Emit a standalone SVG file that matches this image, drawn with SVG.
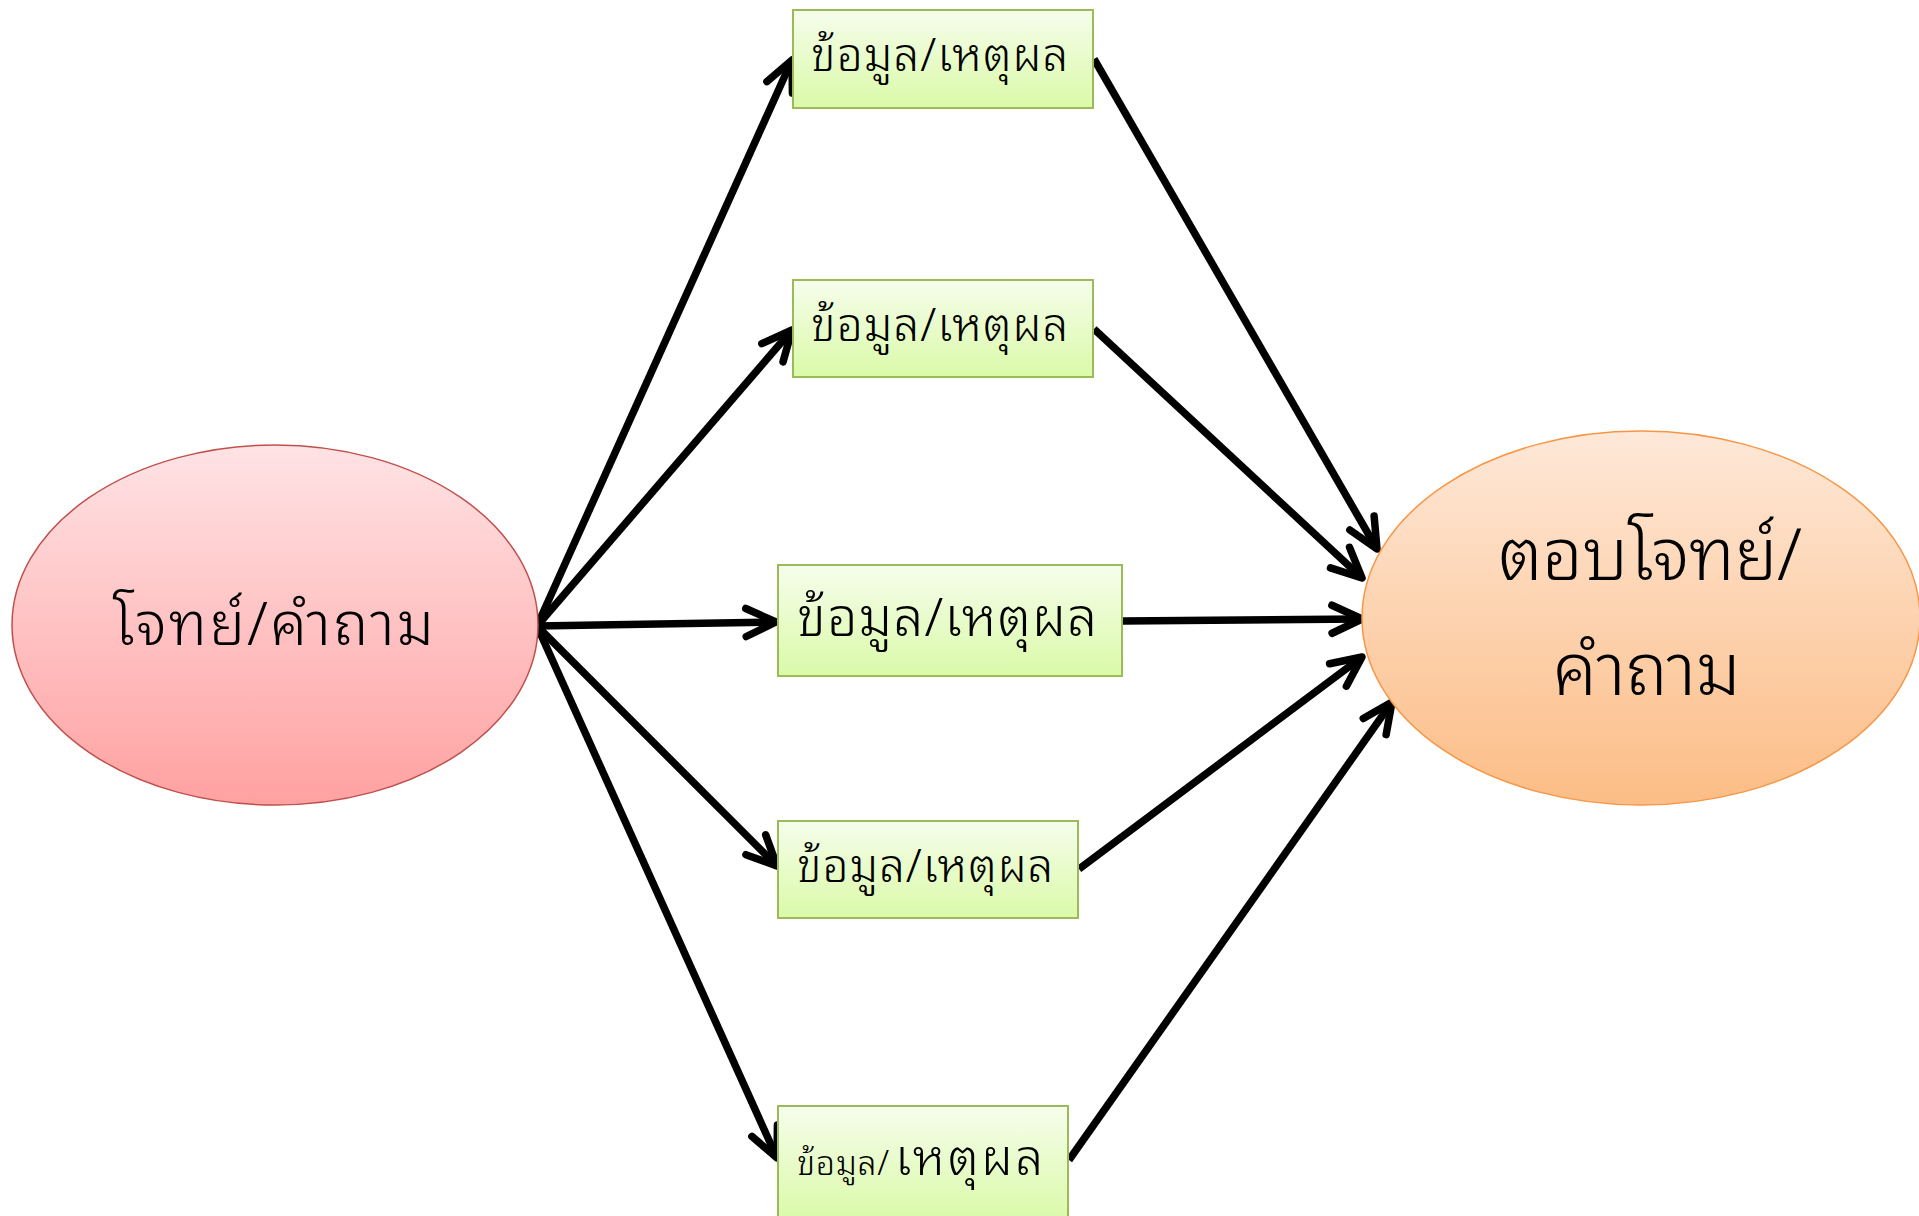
<svg xmlns="http://www.w3.org/2000/svg" width="1919" height="1216" viewBox="0 0 1919 1216">
<defs>
<linearGradient id="gPink" x1="0" y1="0" x2="0" y2="1">
<stop offset="0" stop-color="#ffe3e5"/>
<stop offset="1" stop-color="#ffa1a1"/>
</linearGradient>
<linearGradient id="gOrange" x1="0" y1="0" x2="0" y2="1">
<stop offset="0" stop-color="#fee8d8"/>
<stop offset="1" stop-color="#fcbd86"/>
</linearGradient>
<linearGradient id="gGreen" x1="0" y1="0" x2="0" y2="1">
<stop offset="0" stop-color="#f6fdec"/>
<stop offset="1" stop-color="#dafaa8"/>
</linearGradient>
<marker id="arr" markerUnits="userSpaceOnUse" viewBox="-40 -22 48 44" refX="0" refY="0" markerWidth="48" markerHeight="44" orient="auto" overflow="visible">
<path d="M-30,-14 L0,0 L-30,14" fill="none" stroke="#000" stroke-width="7.5" stroke-linecap="round" stroke-linejoin="round"/>
</marker>
<style>
.box{fill:url(#gGreen);stroke:#9bbb59;stroke-width:2}
.t{font-family:"Noto Sans Thai Looped","Noto Sans Thai","Tahoma","DejaVu Sans","Noto Sans",sans-serif;font-weight:300;fill:#000}
.c{fill:none;stroke:#000;stroke-width:7.5;marker-end:url(#arr)}
</style>
</defs>
<g id="connectors">
<line class="c" x1="537" y1="626" x2="792" y2="60"/>
<line class="c" x1="537" y1="626" x2="792" y2="330"/>
<line class="c" x1="537" y1="626" x2="776" y2="622"/>
<line class="c" x1="537" y1="626" x2="777" y2="866"/>
<line class="c" x1="537" y1="626" x2="777" y2="1158"/>
<line class="c" x1="1094" y1="59" x2="1377" y2="549"/>
<line class="c" x1="1094" y1="329" x2="1362" y2="578"/>
<line class="c" x1="1123" y1="621" x2="1362" y2="619"/>
<line class="c" x1="1079" y1="869" x2="1362" y2="657"/>
<line class="c" x1="1069" y1="1160" x2="1392" y2="702"/>
</g>
<g id="node-question">
<ellipse cx="275" cy="625" rx="263" ry="180" fill="url(#gPink)" stroke="#c0504d" stroke-width="1.5"/>
<text class="t" x="113" y="645" font-size="60" textLength="321" lengthAdjust="spacing">โจทย์/คำถาม</text>
</g>
<g id="node-answer">
<ellipse cx="1641" cy="618" rx="279" ry="187" fill="url(#gOrange)" stroke="#f79646" stroke-width="1.5"/>
<text class="t" x="1498" y="580" font-size="72" textLength="304" lengthAdjust="spacing">ตอบโจทย์/</text>
<text class="t" x="1552" y="695" font-size="72" textLength="188" lengthAdjust="spacing">คำถาม</text>
</g>
<g id="node-box1">
<rect class="box" x="793" y="10" width="300" height="98"/>
<text class="t" x="811" y="71" font-size="46" textLength="257" lengthAdjust="spacing">ข้อมูล/เหตุผล</text>
</g>
<g id="node-box2">
<rect class="box" x="793" y="280" width="300" height="97"/>
<text class="t" x="811" y="341" font-size="46" textLength="257" lengthAdjust="spacing">ข้อมูล/เหตุผล</text>
</g>
<g id="node-box3">
<rect class="box" x="778" y="565" width="344" height="111"/>
<text class="t" x="797" y="636" font-size="54" textLength="300" lengthAdjust="spacing">ข้อมูล/เหตุผล</text>
</g>
<g id="node-box4">
<rect class="box" x="778" y="821" width="300" height="97"/>
<text class="t" x="797" y="882" font-size="46" textLength="256" lengthAdjust="spacing">ข้อมูล/เหตุผล</text>
</g>
<g id="node-box5">
<rect class="box" x="778" y="1106" width="290" height="115"/>
<text class="t" x="797" y="1175" font-size="34" textLength="92" lengthAdjust="spacing">ข้อมูล/</text>
<text class="t" x="895" y="1175" font-size="50" textLength="148" lengthAdjust="spacing">เหตุผล</text>
</g>
</svg>
